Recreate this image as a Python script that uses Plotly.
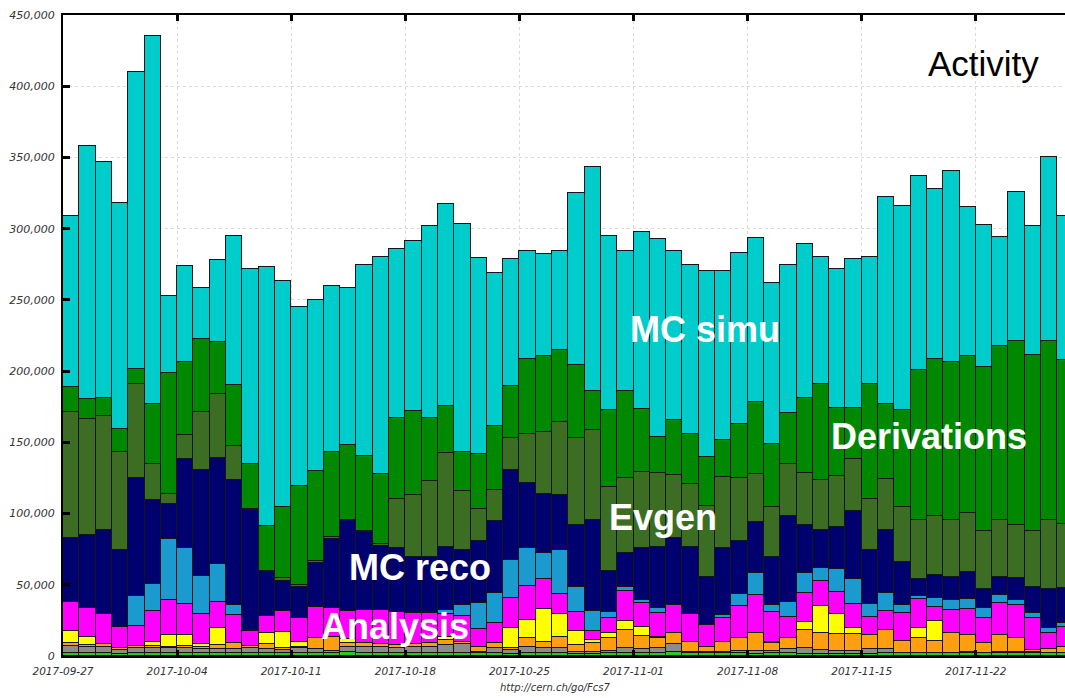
import pandas as pd
import plotly.graph_objects as go

# One bar per day, 2017-09-27 .. 2017-11-27
days = pd.date_range("2017-09-27", periods=62, freq="D")

# Daily running jobs per activity, in thousands (stacked bottom -> top)
testing = [2.0, 2.0, 2.0, 1.6, 2.0, 2.0, 2.0, 2.0, 2.0, 2.0,
           2.0, 2.0, 2.0, 2.0, 2.0, 2.0, 2.0, 2.5, 2.0, 2.0,
           2.0, 2.0, 2.0, 2.0, 2.0, 2.0, 2.0, 1.5, 2.0, 2.0,
           2.0, 1.5, 1.5, 1.8, 2.0, 2.0, 2.0, 2.5, 2.0, 2.0,
           1.8, 1.8, 1.5, 1.8, 2.0, 1.5, 1.6, 1.6, 1.6, 1.5,
           1.8, 1.8, 1.8, 1.8, 1.8, 1.8, 1.8, 1.8, 1.8, 1.8,
           1.8, 1.8]
others = [5.0, 4.1, 4.5, 2.6, 3.4, 3.4, 3.4, 3.4, 2.9, 2.9,
          2.7, 3.8, 2.9, 2.5, 3.4, 2.7, 1.7, 4.0, 4.1, 4.5,
          3.4, 4.5, 4.5, 5.7, 6.4, 1.0, 3.4, 2.7, 4.5, 3.4,
          3.4, 1.5, 1.5, 1.9, 3.4, 2.7, 3.4, 5.9, 1.0, 1.0,
          1.2, 1.9, 2.2, 1.9, 2.7, 4.0, 2.6, 2.1, 2.1, 3.5,
          2.9, 0.5, 0.5, 0.5, 0.5, 1.2, 0.5, 1.2, 1.2, 0.7,
          0.5, 0.5]
group_prod = [2.3, 1.6, 1.9, 1.6, 1.8, 1.8, 1.1, 1.8, 1.6, 2.8,
              4.2, 1.2, 3.3, 1.3, 1.1, 7.7, 9.9, 2.8, 2.8, 1.7,
              2.3, 1.9, 2.4, 3.5, 1.6, 3.5, 3.5, 1.6, 5.9, 4.6,
              8.2, 4.7, 6.3, 8.7, 12.8, 9.3, 7.1, 7.5, 7.0, 3.5,
              7.0, 8.7, 12.2, 5.3, 7.7, 12.7, 12.2, 11.7, 11.7, 9.7,
              13.5, 8.5, 10.1, 8.5, 13.6, 11.7, 7.0, 11.7, 9.4, 2.0,
              2.4, 4.2]
data_proc = [8.5, 5.4, 0, 0, 0, 2.8, 8.2, 7.5, 1.9, 12.2,
             0, 0, 8.2, 11.3, 3.1, 0, 0, 2.4, 0, 0,
             0, 0, 0, 2.4, 0, 0, 0, 13.6, 12.8, 22.7,
             15.8, 10.1, 1.9, 4.0, 6.6, 6.1, 1.1, 0, 0, 0,
             0, 0, 0, 1.0, 0, 5.9, 18.7, 14.0, 4.0, 0,
             0, 0, 7.0, 14.0, 0, 0, 0, 0, 0, 0,
             0, 0]
analysis = [20.3, 20.3, 20.8, 14.8, 13.8, 21.8, 24.6, 21.5, 20.8, 18.2,
            19.8, 10.5, 11.6, 14.7, 17.3, 21.7, 19.8, 20.1, 23.4, 23.8,
            23.4, 21.5, 21.1, 15.6, 18.3, 12.2, 14.5, 21.5, 23.9, 21.3,
            13.8, 13.3, 6.6, 10.0, 21.0, 17.3, 16.8, 19.9, 19.4, 15.2,
            17.0, 22.7, 26.9, 21.1, 15.2, 19.8, 17.5, 15.7, 16.8, 12.9,
            13.6, 19.1, 20.3, 9.8, 16.4, 18.0, 17.1, 22.2, 23.4, 21.9,
            11.2, 13.6]
mc_merge = [0, 0, 0, 0, 21.3, 18.7, 42.5, 39.3, 27.1, 26.4,
            7.1, 0.7, 0, 0, 0, 0, 0, 0, 0, 0,
            0, 0, 1.1, 3.1, 7.5, 18.7, 20.5, 26.4, 26.4, 18.0,
            31.1, 17.0, 14.0, 4.7, 2.3, 1.9, 3.0, 0, 0, 0,
            1.7, 8.1, 15.2, 4.7, 10.5, 14.5, 8.9, 15.7, 17.8, 8.9,
            12.1, 5.9, 2.4, 5.8, 7.0, 7.0, 7.0, 5.9, 3.5, 3.5,
            3.5, 3.3]
mc_reco = [44.4, 51.4, 59.1, 53.7, 83.0, 59.3, 24.8, 63.1, 74.1, 74.8,
           88.0, 84.2, 31.0, 20.8, 21.2, 31.3, 48.4, 63.5, 54.8, 45.0,
           44.4, 39.3, 38.1, 43.9, 38.5, 43.4, 51.0, 63.1, 46.0, 41.6,
           38.6, 44.2, 64.0, 28.5, 24.3, 36.2, 42.8, 46.7, 47.2, 33.9,
           46.8, 37.6, 36.2, 33.8, 60.0, 33.9, 26.8, 29.9, 47.6, 37.8,
           44.4, 30.3, 11.7, 16.4, 15.9, 19.4, 13.3, 12.8, 15.2, 18.2,
           27.3, 24.0]
evgen = [88.8, 81.8, 79.9, 68.9, 65.8, 25.3, 7.4, 16.3, 40.9, 44.4,
         23.6, 1.1, 0.6, 1.9, 1.7, 1.6, 1.4, 0.5, 0.5, 1.3,
         35.0, 43.7, 53.7, 66.3, 41.4, 22.2, 21.5, 22.9, 34.4, 43.7,
         51.1, 61.0, 62.6, 59.1, 52.8, 53.7, 52.3, 44.4, 44.4, 49.8,
         50.2, 44.4, 33.9, 35.1, 37.0, 36.2, 35.5, 35.5, 37.0, 36.2,
         36.2, 38.6, 42.0, 41.3, 40.6, 41.4, 41.2, 40.2, 37.8, 39.5,
         49.1, 45.6]
derivations = [17.5, 14.0, 13.1, 15.9, 10.6, 42.0, 84.8, 51.2, 51.4, 36.6,
               43.0, 31.5, 31.9, 50.2, 69.6, 62.9, 60.0, 52.6, 52.6, 49.7,
               56.8, 59.3, 44.4, 33.2, 27.5, 39.1, 45.3, 36.4, 52.8, 53.0,
               50.5, 51.2, 27.4, 53.7, 60.6, 43.9, 25.3, 39.0, 35.1, 34.3,
               26.2, 37.9, 50.2, 44.4, 35.7, 52.8, 67.3, 47.9, 35.5, 80.6,
               52.6, 67.7, 104.7, 110.6, 110.5, 109.8, 114.9, 122.0, 128.7, 123.4,
               125.2, 115.0]
mc_simu = [120.2, 177.4, 165.2, 158.9, 208.3, 257.9, 53.8, 67.9, 35.8, 57.7,
           104.6, 136.5, 181.5, 158.3, 125.6, 120.1, 116.8, 110.0, 134.6, 152.4,
           118.2, 119.2, 134.6, 141.9, 160.3, 137.4, 107.0, 89.1, 75.9, 72.0,
           70.1, 120.5, 157.7, 122.7, 98.8, 124.9, 139.0, 118.7, 118.5, 130.7,
           118.5, 119.6, 115.2, 113.1, 103.8, 108.0, 89.3, 97.4, 104.7, 89.3,
           145.4, 143.5, 136.2, 118.9, 134.4, 104.7, 100.0, 76.6, 105.0, 91.1,
           129.0, 100.7]

y_ticks = [0, 50000, 100000, 150000, 200000, 250000, 300000, 350000, 400000, 450000]

series = [
    ("Testing", testing, "#22cc22"),
    ("Others", others, "#8c8c8c"),
    ("Group production", group_prod, "#ff9f10"),
    ("Data processing", data_proc, "#ffff00"),
    ("Analysis", analysis, "#ff00ff"),
    ("MC merge", mc_merge, "#1b9ad0"),
    ("MC reco", mc_reco, "#00006e"),
    ("Evgen", evgen, "#3b6e22"),
    ("Derivations", derivations, "#008800"),
    ("MC simu", mc_simu, "#00cccc"),
]

DAY_MS = 86400000
centers = days + pd.Timedelta(hours=12)

fig = go.Figure()
for name, vals, color in series:
    fig.add_trace(go.Bar(
        x=centers, y=[v * 1000 for v in vals], name=name, width=DAY_MS,
        marker=dict(color=color, line=dict(color="#151515", width=1)),
    ))

x_start = pd.Timestamp("2017-09-27")
x_end = x_start + pd.Timedelta(days=61.47)

tick_font = dict(family="DejaVu Sans", size=10.5, color="#333333", style="italic")

fig.update_layout(
    barmode="stack", bargap=0, showlegend=False,
    width=1065, height=698,
    margin=dict(l=63, r=0, t=15, b=42),
    plot_bgcolor="white", paper_bgcolor="white",
    xaxis=dict(
        type="date", range=[x_start, x_end],
        tick0="2017-09-27", dtick=7 * DAY_MS, tickformat="%Y-%m-%d",
        ticks="inside", ticklen=6, tickwidth=3, tickcolor="black",
        showline=True, linecolor="black", linewidth=2, mirror="ticks",
        showgrid=True, gridcolor="#dadada", griddash="dot", gridwidth=1,
        tickfont=tick_font, ticklabelstandoff=4,
    ),
    yaxis=dict(
        range=[0, 450000], tickvals=y_ticks, tickformat=",",
        ticks="inside", ticklen=7, tickwidth=3, tickcolor="black",
        showline=True, linecolor="black", linewidth=2,
        showgrid=True, gridcolor="#dadada", griddash="dot", gridwidth=1,
        zeroline=False, tickfont=dict(tick_font, size=11), ticklabelstandoff=4,
    ),
)

label_font = dict(family="Liberation Sans", size=36, color="white", weight="bold")
labels = [
    ("MC simu", 0.6407, 0.5086),
    ("Derivations", 0.8643, 0.3417),
    ("Evgen", 0.5988, 0.2168),
    ("MC reco", 0.3563, 0.1373),
    ("Analysis", 0.3313, 0.0468),
]
for text, xp, yp in labels:
    fig.add_annotation(text=text, x=xp, y=yp, xref="paper", yref="paper",
                       showarrow=False, font=label_font, xanchor="center", yanchor="middle")

fig.add_annotation(text="Activity", x=0.9182, y=0.9251, xref="paper", yref="paper",
                   showarrow=False, xanchor="center", yanchor="middle",
                   font=dict(family="Liberation Sans", size=35, color="black"))
fig.add_annotation(text="http://cern.ch/go/Fcs7", x=0.491, y=-0.0499, xref="paper", yref="paper",
                   showarrow=False, xanchor="center", yanchor="middle",
                   font=dict(family="DejaVu Sans", size=10, color="#333333", style="italic"))

fig.write_html("out.html")
